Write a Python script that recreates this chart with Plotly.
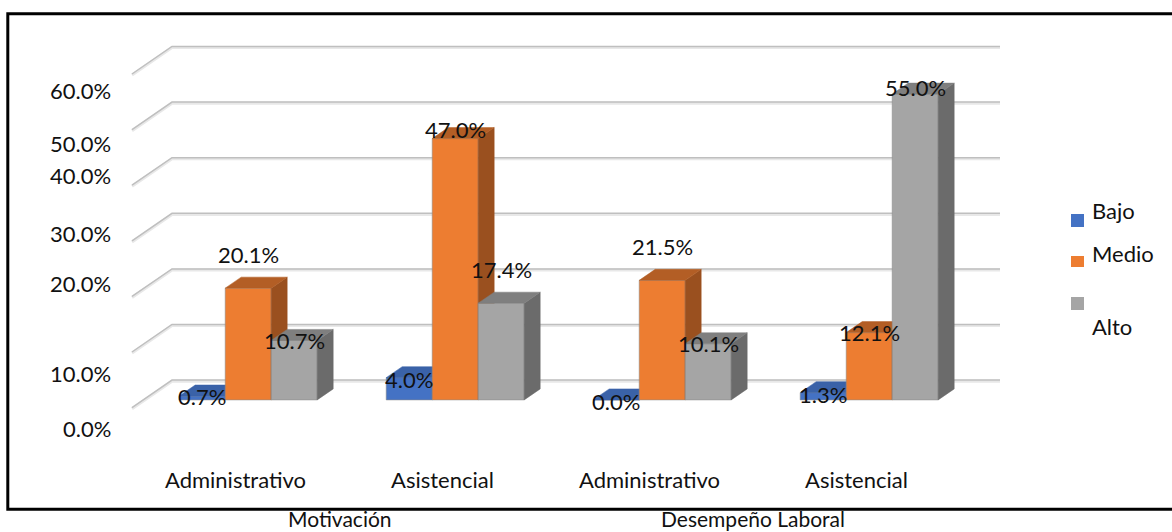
import plotly.graph_objects as go

WIDTH, HEIGHT = 1172, 532

# Chart values
groups = ["Motivación", "Desempeño Laboral"]
categories = ["Administrativo", "Asistencial", "Administrativo", "Asistencial"]
series_names = ["Bajo", "Medio", "Alto"]
bajo = [0.7, 4.0, 0.0, 1.3]
medio = [20.1, 47.0, 21.5, 12.1]
alto = [10.7, 17.4, 10.1, 55.0]
axis_ticks = [0, 10, 20, 30, 40, 50, 60]

# Styling: front / top / side shade per series
FRONT = ["#4472C4", "#ED7D31", "#A5A5A5"]
TOP = ["#3A62A8", "#B35E25", "#7F7F7F"]
SIDE = ["#2F5597", "#9A501F", "#6B6B6B"]
TEXT = "#111111"
FONT = "Lato, Carlito, sans-serif"
FONT_SIZE = 22

# Oblique projection of the box: scale and depth offsets, in axis units
PX_PER_CATEGORY = 207.0
PX_PER_PERCENT = 5.56
ORIGIN_PX = (132.0, 407.6)
DEPTH_X = 40.0 / PX_PER_CATEGORY
DEPTH_Y = 27.5 / PX_PER_PERCENT
BAR_FRONT = 0.28
BAR_BACK = 0.68
BAR_WIDTH = 1 / 4.5
GROUP_START = 0.75 / 4.5 + 1.5 / PX_PER_CATEGORY

# Vertical nudge of each value label, in pixels, per series and category
label_shift = [[0, -2, -2, -2], [34, 9, 34, 0], [0, 34, 0, 7]]
# Hand-placed value axis labels: centre height per tick, in pixels
tick_label_y = [428, 373, 283, 233, 175, 143, 90]
legend_y = [(214, 227, 210), (256, 267, 253), (297, 310, 326)]


def px_x(px):
    return px / WIDTH


def px_y(py):
    return 1 - py / HEIGHT


fig = go.Figure()

# Back wall and left wall gridlines
for v in axis_ticks:
    for color, width, off in (("#E8E8E8", 3, -0.2), ("#BFBFBF", 1.5, 0)):
        fig.add_trace(go.Scatter(
            x=[0, DEPTH_X, 4 + DEPTH_X],
            y=[v + off, v + DEPTH_Y + off, v + DEPTH_Y + off],
            mode="lines", line=dict(color=color, width=width),
            hoverinfo="skip", showlegend=False, xaxis="x", yaxis="y",
        ))

# One overlaid axis per series keeps the paint order left to right
series = [bajo, medio, alto]
annotations = []
for s, values in enumerate(series):
    yaxis = f"y{s + 2}"
    xs = []
    for i, v in enumerate(values):
        x0 = i + GROUP_START + s * BAR_WIDTH + BAR_FRONT * DEPTH_X
        x1 = x0 + BAR_WIDTH
        xs.append((x0 + x1) / 2)
        base = BAR_FRONT * DEPTH_Y
        dx = (BAR_BACK - BAR_FRONT) * DEPTH_X
        dy = (BAR_BACK - BAR_FRONT) * DEPTH_Y
        fig.add_trace(go.Scatter(
            x=[x1, x1 + dx, x1 + dx, x1, x1],
            y=[base, base + dy, base + v + dy, base + v, base],
            mode="lines", fill="toself", fillcolor=SIDE[s],
            line=dict(color=SIDE[s], width=0.5),
            hoverinfo="skip", showlegend=False, xaxis="x", yaxis=yaxis,
        ))
        fig.add_trace(go.Scatter(
            x=[x0, x1, x1 + dx, x0 + dx, x0],
            y=[base + v, base + v, base + v + dy, base + v + dy, base + v],
            mode="lines", fill="toself", fillcolor=TOP[s],
            line=dict(color=TOP[s], width=0.5),
            hoverinfo="skip", showlegend=False, xaxis="x", yaxis=yaxis,
        ))
        annotations.append(dict(
            x=(x0 + x1) / 2, y=base + v, xref="x", yref="y",
            yshift=label_shift[s][i], text=f"{v:.1f}%", showarrow=False,
            font=dict(family=FONT, size=FONT_SIZE, color=TEXT),
            xanchor="center", yanchor="middle",
        ))
    fig.add_trace(go.Bar(
        x=xs, y=values, base=BAR_FRONT * DEPTH_Y, width=BAR_WIDTH,
        name=series_names[s],
        marker=dict(color=FRONT[s], line=dict(width=0.8, color="rgba(140,140,140,0.7)")),
        showlegend=False, xaxis="x", yaxis=yaxis,
    ))

# Value axis labels
for v, py in zip(axis_ticks, tick_label_y):
    annotations.append(dict(
        x=px_x(112.5), y=px_y(py), xref="paper", yref="paper",
        text=f"{v:.1f}%", showarrow=False, xanchor="right", yanchor="middle",
        font=dict(family=FONT, size=FONT_SIZE, color=TEXT),
    ))

# Category labels along the front edge of the floor
for i, name in enumerate(categories):
    annotations.append(dict(
        x=i + 0.5, y=px_y(479), xref="x", yref="paper",
        text=name, showarrow=False, xanchor="center", yanchor="middle",
        font=dict(family=FONT, size=FONT_SIZE, color=TEXT),
    ))

# Group labels below the frame, kept inside the page
for name, px in zip(groups, (340, 753)):
    annotations.append(dict(
        x=px_x(px), y=px_y(532), xref="paper", yref="paper",
        text=name, showarrow=False, xanchor="center", yanchor="bottom",
        borderpad=0, font=dict(family=FONT, size=21, color=TEXT),
    ))

# Frame, open at the right page edge, then legend swatches and labels
shapes = [dict(
    type="path", xref="paper", yref="paper",
    path=(f"M {px_x(1175)} {px_y(13.8)} L {px_x(7.8)} {px_y(13.8)} "
          f"L {px_x(7.8)} {px_y(509.3)} L {px_x(1175)} {px_y(509.3)}"),
    line=dict(color="#000000", width=3), fillcolor="rgba(0,0,0,0)", layer="above",
)]
for s, (top, bottom, label_y) in enumerate(legend_y):
    shapes.append(dict(
        type="rect", xref="paper", yref="paper",
        x0=px_x(1071), x1=px_x(1084), y0=px_y(bottom), y1=px_y(top),
        line=dict(width=0), fillcolor=FRONT[s],
    ))
    annotations.append(dict(
        x=px_x(1089.5), y=px_y(label_y), xref="paper", yref="paper",
        text=series_names[s], showarrow=False, xanchor="left", yanchor="middle",
        font=dict(family=FONT, size=FONT_SIZE, color=TEXT),
    ))

x_range = [-ORIGIN_PX[0] / PX_PER_CATEGORY, (WIDTH - ORIGIN_PX[0]) / PX_PER_CATEGORY]
y_range = [-(HEIGHT - ORIGIN_PX[1]) / PX_PER_PERCENT, ORIGIN_PX[1] / PX_PER_PERCENT]
hidden = dict(visible=False, range=y_range, fixedrange=True)

fig.update_layout(
    width=WIDTH, height=HEIGHT, autosize=False,
    margin=dict(l=0, r=0, t=0, b=0),
    paper_bgcolor="white", plot_bgcolor="white",
    barmode="overlay", showlegend=False,
    xaxis=dict(visible=False, range=x_range, fixedrange=True),
    yaxis=dict(**hidden),
    yaxis2=dict(**hidden, overlaying="y"),
    yaxis3=dict(**hidden, overlaying="y"),
    yaxis4=dict(**hidden, overlaying="y"),
    annotations=annotations, shapes=shapes,
)

fig.write_html("out.html", config=dict(displayModeBar=False))
